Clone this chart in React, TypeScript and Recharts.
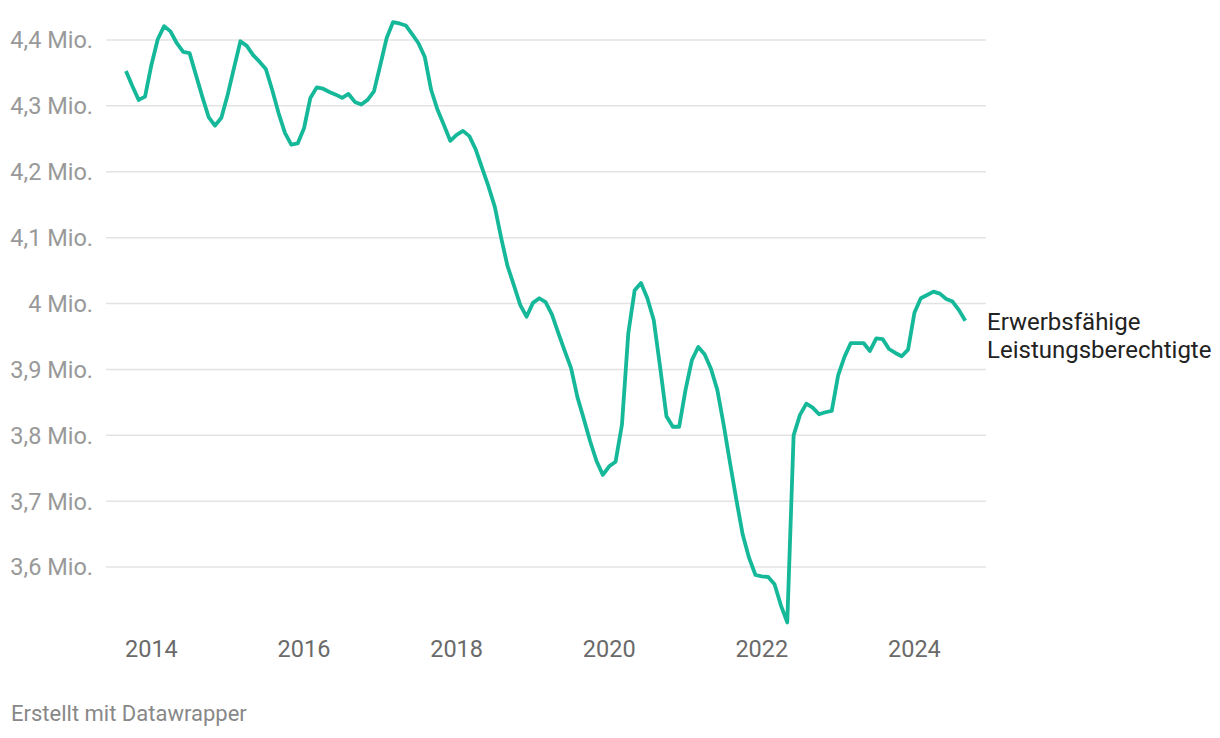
import { Line, LineChart, ReferenceLine, XAxis, YAxis } from 'recharts'

// monthly values in millions, Sep 2013 to Sep 2024
const v2013 = [4.353, 4.33, 4.309, 4.314]
const v2014 = [4.362, 4.401, 4.421, 4.413, 4.395, 4.382, 4.38, 4.347, 4.314, 4.283, 4.27, 4.282]
const v2015 = [4.317, 4.358, 4.398, 4.391, 4.377, 4.367, 4.356, 4.324, 4.289, 4.259, 4.241, 4.243]
const v2016 = [4.266, 4.312, 4.328, 4.326, 4.321, 4.317, 4.312, 4.318, 4.306, 4.302, 4.309, 4.322]
const v2017 = [4.362, 4.403, 4.427, 4.425, 4.422, 4.409, 4.395, 4.374, 4.324, 4.294, 4.271, 4.247]
const v2018 = [4.256, 4.262, 4.254, 4.234, 4.206, 4.178, 4.147, 4.1, 4.057, 4.028, 3.998, 3.98]
const v2019 = [4.001, 4.008, 4.002, 3.983, 3.955, 3.928, 3.902, 3.858, 3.825, 3.791, 3.761, 3.74]
const v2020 = [3.753, 3.76, 3.816, 3.955, 4.02, 4.031, 4.008, 3.975, 3.904, 3.829, 3.813, 3.813]
const v2021 = [3.869, 3.914, 3.934, 3.923, 3.901, 3.869, 3.816, 3.758, 3.702, 3.649, 3.614, 3.588]
const v2022 = [3.586, 3.585, 3.574, 3.542, 3.516, 3.8, 3.831, 3.848, 3.842, 3.832, 3.835, 3.837]
const v2023 = [3.891, 3.919, 3.94, 3.94, 3.94, 3.928, 3.947, 3.946, 3.931, 3.925, 3.92, 3.93]
const v2024 = [3.986, 4.008, 4.013, 4.018, 4.015, 4.007, 4.003, 3.99, 3.974]

const yearTicks = [2014, 2016, 2018, 2020, 2022, 2024]
const valueTicks = [3.6, 3.7, 3.8, 3.9, 4.0, 4.1, 4.2, 4.3, 4.4]
const seriesLabel = ['Erwerbsfähige', 'Leistungsberechtigte']

const values = [
  ...v2013, ...v2014, ...v2015, ...v2016, ...v2017, ...v2018,
  ...v2019, ...v2020, ...v2021, ...v2022, ...v2023, ...v2024,
]
// first point is September 2013
const data = values.map((value, i) => ({ t: 2013 + (8 + i) / 12, value }))

const fmtMio = (v: number) => v.toFixed(1).replace('.0', '').replace('.', ',') + ' Mio.'

export default function App() {
  return (
    <div
      style={{
        position: 'absolute',
        left: 0,
        top: 0,
        width: 1220,
        height: 738,
        background: '#fff',
        fontFamily: 'Roboto, sans-serif',
      }}
    >
      <LineChart width={1220} height={738} data={data} margin={{ top: 7, right: 234, bottom: 75, left: 0 }}>
        {valueTicks.map((v) => (
          <ReferenceLine key={v} y={v} stroke="#e3e3e3" strokeWidth={1.5} />
        ))}
        <XAxis
          dataKey="t"
          type="number"
          domain={[2013.405, 2024.938]}
          ticks={yearTicks}
          height={30}
          axisLine={false}
          tickLine={false}
          tickSize={0}
          tickMargin={7}
          tick={{ fill: '#6a6a6a', fontSize: 23.5 }}
        />
        <YAxis
          type="number"
          domain={[3.5, 4.45]}
          ticks={valueTicks}
          width={106}
          axisLine={false}
          tickLine={false}
          tickSize={0}
          tickMargin={13}
          tickFormatter={fmtMio}
          tick={{ fill: '#999', fontSize: 23.5 }}
        />
        <Line
          dataKey="value"
          stroke="#15b898"
          strokeWidth={3.8}
          dot={false}
          strokeLinejoin="round"
          isAnimationActive={false}
        />
      </LineChart>
      <div
        style={{
          position: 'absolute',
          left: 987,
          top: 308,
          fontSize: 24,
          lineHeight: '28px',
          color: '#222',
        }}
      >
        {seriesLabel.map((s) => (
          <div key={s}>{s}</div>
        ))}
      </div>
      <div style={{ position: 'absolute', left: 11, top: 701, fontSize: 22, color: '#888' }}>
        Erstellt mit Datawrapper
      </div>
    </div>
  )
}
